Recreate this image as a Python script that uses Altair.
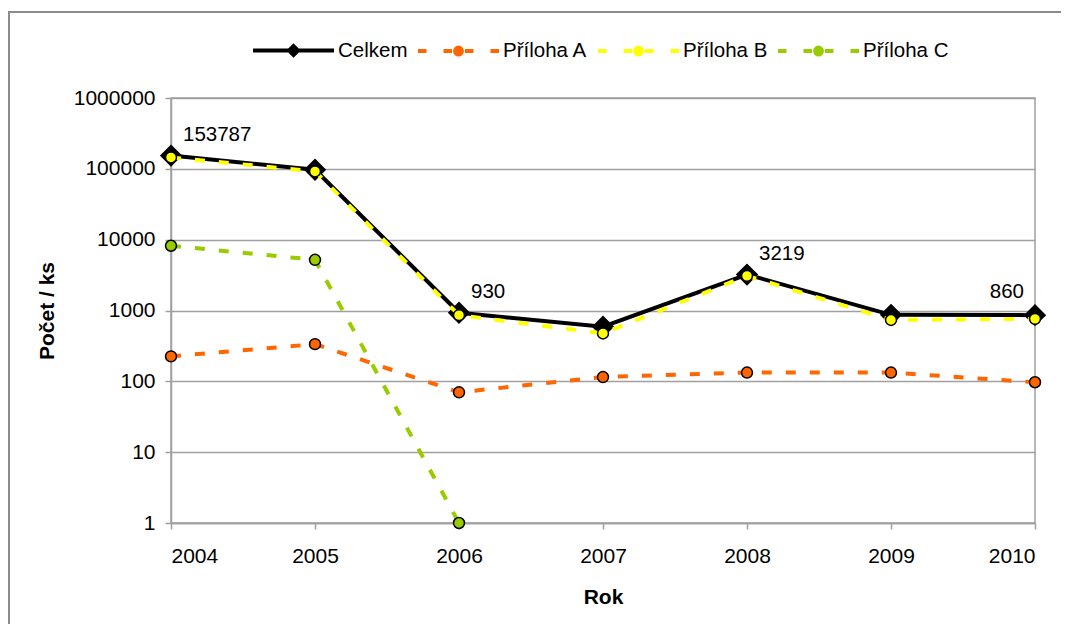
import altair as alt
import pandas as pd

years = [2004, 2005, 2006, 2007, 2008, 2009, 2010]
celkem = [153787, 97000, 930, 590, 3219, 868, 860]
priloha_a = [225, 335, 70, 115, 133, 133, 97]
priloha_b = [145000, 92000, 860, 475, 3084, 735, 762]
priloha_c = [8200, 5200, 1, None, None, None, None]
series_names = ["Celkem", "Příloha A", "Příloha B", "Příloha C"]
series_colors = ["#000000", "#ff6600", "#ffff00", "#99cc00"]
label_years = [2004, 2006, 2008, 2010]
y_ticks = [1, 10, 100, 1000, 10000, 100000, 1000000]

rows = []
for name, vals in zip(series_names, [celkem, priloha_a, priloha_b, priloha_c]):
    for yr, v in zip(years, vals):
        if v is not None:
            rows.append({"series": name, "year": yr, "value": v})
df = pd.DataFrame(rows)

lab = pd.DataFrame({
    "year": label_years,
    "value": [celkem[years.index(y)] for y in label_years],
})
lab["text"] = lab["value"].astype(str)

FONT = "Liberation Sans"
GRAY = "#a0a0a0"

x_enc = alt.X(
    "year:Q",
    scale=alt.Scale(domain=[2004, 2010], nice=False, zero=False),
    axis=alt.Axis(values=years, format="d", title="Rok", grid=False,
                  tickSize=6, labelPadding=16, titleY=80, titleBaseline="alphabetic"),
)
y_enc = alt.Y(
    "value:Q",
    scale=alt.Scale(type="log", domain=[1, 1000000], nice=False),
    axis=alt.Axis(values=y_ticks, format="d", title="Počet / ks", grid=True,
                  tickSize=6, labelPadding=10, titleX=-118, titleY=212.5,
                  titleAngle=-90, titleBaseline="alphabetic", titleAlign="center"),
)

# legend symbols: line (solid or dashed as separate sub-paths) with a marker in the middle
diamond_path = "M-1,0L1,0M0,-0.11L0.11,0L0,0.11L-0.11,0Z"
circle_path = ("M-1,0L-0.79,0M-0.37,0L-0.16,0M0.16,0L0.37,0M0.79,0L1,0"
               "M0.085,0A0.085,0.085,0,1,1,-0.085,0A0.085,0.085,0,1,1,0.085,0Z")
legend_shapes = [diamond_path, circle_path, circle_path, circle_path]

legend = alt.Legend(
    title=None, orient="none", legendX=80, legendY=-90, direction="horizontal",
    symbolSize=6561, symbolStrokeWidth=4, symbolOpacity=1,
    labelFont=FONT, labelFontSize=20.5, labelColor="black", labelOffset=2,
    columnPadding=2,
)

# outer chart frame (left and top edges) drawn as thin filled strips
frame_left = alt.Chart(pd.DataFrame({"a": [0]})).mark_rect(
    color="#8c8c8c", strokeWidth=0
).encode(x=alt.value(-163), x2=alt.value(-161), y=alt.value(-87), y2=alt.value(526))
frame_top = alt.Chart(pd.DataFrame({"a": [0]})).mark_rect(
    color="#8c8c8c", strokeWidth=0
).encode(x=alt.value(-163), x2=alt.value(890), y=alt.value(-87), y2=alt.value(-85))

legend_layer = alt.Chart(df).transform_filter("false").mark_point(
    filled=True, size=6561, strokeWidth=4, opacity=1
).encode(
    x=x_enc, y=y_enc,
    stroke=alt.Stroke("series:N", scale=alt.Scale(domain=series_names, range=series_colors), legend=legend),
    fill=alt.Fill("series:N", scale=alt.Scale(domain=series_names, range=series_colors), legend=legend),
    shape=alt.Shape("series:N", scale=alt.Scale(domain=series_names, range=legend_shapes), legend=legend),
)

layers = [frame_left, frame_top, legend_layer]
for name, col in zip(series_names, series_colors):
    base = alt.Chart(df).transform_filter(alt.datum.series == name)
    if name == "Celkem":
        line = base.mark_line(strokeWidth=4, color=col).encode(x=x_enc, y=y_enc)
        pts = base.mark_point(shape="diamond", filled=True, fill="black", stroke="black",
                              strokeWidth=2, size=380, opacity=1).encode(x=x_enc, y=y_enc)
    else:
        line = base.mark_line(strokeWidth=4, strokeDash=[10, 14], color=col).encode(x=x_enc, y=y_enc)
        pts = base.mark_point(shape="circle", filled=True, fill=col, stroke="black",
                              strokeWidth=1.5, size=120, opacity=1).encode(x=x_enc, y=y_enc)
    layers += [line, pts]

labels_left = alt.Chart(lab).transform_filter(alt.datum.year < 2010).mark_text(
    align="left", baseline="alphabetic", dx=12, dy=-15, font=FONT, fontSize=20.5, color="black"
).encode(x=x_enc, y=y_enc, text="text:N")
labels_right = alt.Chart(lab).transform_filter(alt.datum.year == 2010).mark_text(
    align="right", baseline="alphabetic", dx=-11, dy=-17, font=FONT, fontSize=20.5, color="black"
).encode(x=x_enc, y=y_enc, text="text:N")
layers += [labels_left, labels_right]

chart = alt.layer(*layers).properties(
    width=864, height=425,
    autosize=alt.AutoSizeParams(type="none"),
    padding={"left": 163, "top": 90, "right": 26, "bottom": 101},
    background="white",
).configure_view(
    stroke=GRAY, strokeWidth=1.5
).configure_axis(
    domainColor=GRAY, domainWidth=1.5, tickColor=GRAY, tickWidth=1.5,
    gridColor=GRAY, gridWidth=1.5,
    labelFont=FONT, labelFontSize=21, labelColor="black",
    titleFont=FONT, titleFontSize=21, titleFontWeight="bold", titleColor="black",
)

chart.save("out.html", embed_options={"renderer": "svg", "actions": False})
